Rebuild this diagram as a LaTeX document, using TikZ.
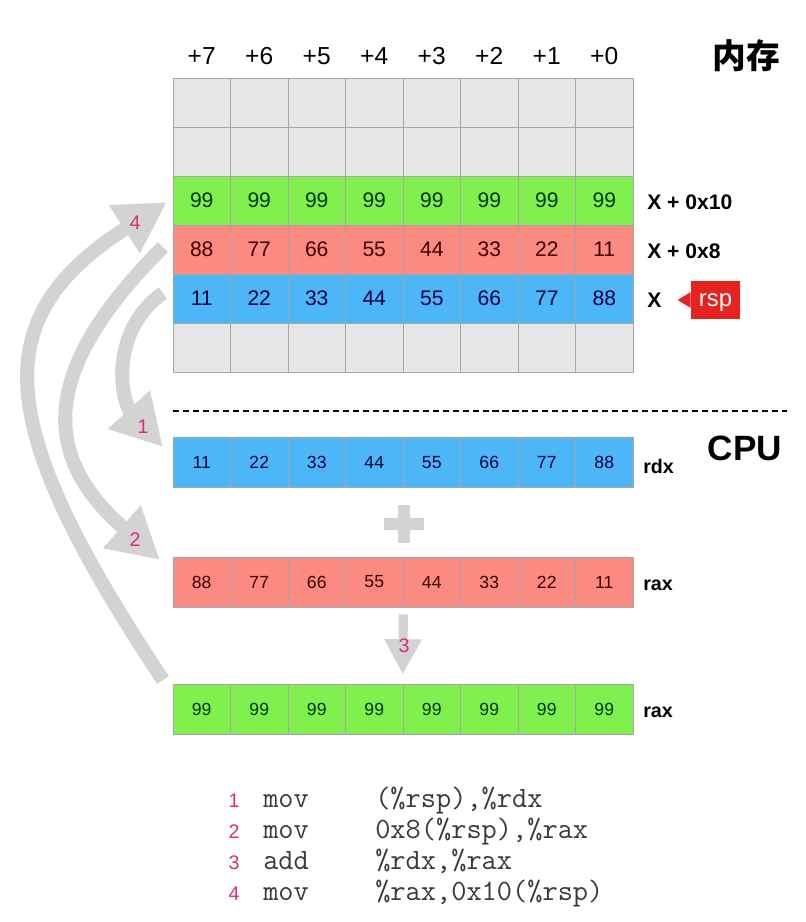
\documentclass[tikz,border=0pt]{standalone}
\usepackage{fontspec}
\setmainfont{Liberation Sans}
\newfontfamily\cjk{Noto Sans CJK SC}
\usetikzlibrary{arrows.meta}
\definecolor{cellgray}{HTML}{E6E6E6}
\definecolor{cellline}{HTML}{A6A6A6}
\definecolor{memgreen}{HTML}{80F04E}
\definecolor{memred}{HTML}{FA8A82}
\definecolor{memblue}{HTML}{4DB6F7}
\definecolor{arrowgray}{HTML}{D3D3D3}
\definecolor{stepmag}{HTML}{D6307E}
\definecolor{rspred}{HTML}{E52420}
\definecolor{codegray}{HTML}{3A3A3A}

\begin{document}
\begin{tikzpicture}[x=0.025cm,y=-0.025cm,
  memcell/.style={draw=cellline,line width=0.6pt,minimum width=1.4375cm,minimum height=1.225cm,inner sep=0pt,font=\fontsize{15}{18}\selectfont},
  cpucell/.style={memcell,minimum height=1.25cm,font=\fontsize{12.5}{15}\selectfont},
  offs/.style={font=\fontsize{17.5}{21}\selectfont},
  addr/.style={anchor=west,inner sep=0pt,font=\bfseries\fontsize{15}{18}\selectfont},
  reg/.style={anchor=west,inner sep=0pt,font=\bfseries\fontsize{14}{17}\selectfont},
  stepnum/.style={text=stepmag,inner sep=0pt,font=\fontsize{14}{17}\selectfont},
  bigarrow/.style={draw=arrowgray,line width=10pt,-{Triangle[length=36pt,width=38pt]}},
  code/.style={anchor=base west,inner sep=0pt,text=codegray,font=\ttfamily\fontsize{21}{25}\selectfont}]
\useasboundingbox (0,0) rectangle (806,922);

% memory
\foreach \t [count=\c from 0] in {+7,+6,+5,+4,+3,+2,+1,+0}
  \node[offs] (h\c) at ({201.75+57.5*\c},56) {\t};
\node[font=\cjk\bfseries\fontsize{24}{28}\selectfont] (mem) at (746,56) {内存};

\foreach \c in {0,...,7} {
  \node[memcell,fill=cellgray] (ma\c) at ({201.75+57.5*\c},102.5) {};
  \node[memcell,fill=cellgray] (mb\c) at ({201.75+57.5*\c},151.5) {};
  \node[memcell,fill=cellgray] (mf\c) at ({201.75+57.5*\c},347.5) {};
}
\foreach \v [count=\c from 0] in {99,99,99,99,99,99,99,99}
  \node[memcell,fill=memgreen,text=green!20!black] (mc\c) at ({201.75+57.5*\c},200.5) {\v};
\foreach \v [count=\c from 0] in {88,77,66,55,44,33,22,11}
  \node[memcell,fill=memred,text=red!25!black] (md\c) at ({201.75+57.5*\c},249.5) {\v};
\foreach \v [count=\c from 0] in {11,22,33,44,55,66,77,88}
  \node[memcell,fill=memblue,text=blue!25!black] (me\c) at ({201.75+57.5*\c},298.5) {\v};

\node[addr] (x10) at (647,202) {X + 0x10};
\node[addr] (x8) at (647,251) {X + 0x8};
\node[addr] (x0) at (647,300) {X};
\node[fill=rspred,text=white,minimum width=1.225cm,minimum height=0.95cm,inner sep=0pt,text depth=0pt,font=\fontsize{17}{20}\selectfont] (rsp) at (715.5,300) {rsp};
\fill[rspred] (rsp.west) ++(0,-8) -- ++(-13,8) -- ++(13,8) -- cycle;

\draw[line width=1.4pt,dash pattern=on 4.3pt off 2.8pt] (173,411) -- (787,411);

% cpu
\node[font=\bfseries\fontsize{25}{30}\selectfont] (cpu) at (745,448) {CPU};
\foreach \v [count=\c from 0] in {11,22,33,44,55,66,77,88}
  \node[cpucell,fill=memblue,text=blue!25!black] (rd\c) at ({201.75+57.5*\c},462.5) {\v};
\foreach \v [count=\c from 0] in {88,77,66,55,44,33,22,11}
  \node[cpucell,fill=memred,text=red!25!black] (ra\c) at ({201.75+57.5*\c},582) {\v};
\foreach \v [count=\c from 0] in {99,99,99,99,99,99,99,99}
  \node[cpucell,fill=memgreen,text=green!20!black] (rs\c) at ({201.75+57.5*\c},709) {\v};
\node[reg] (lrdx) at (643,466) {rdx};
\node[reg] (lrax) at (643,585) {rax};
\node[reg] (lres) at (643,712) {rax};

\draw[arrowgray,line width=8pt] (384,524) -- (424,524);
\draw[arrowgray,line width=8pt] (404,505) -- (404,543);
\draw[arrowgray,line width=6.5pt,-{Triangle[length=25pt,width=25pt]},shorten <=5pt,shorten >=6.5pt] (ra3.south east) -- (rs4.north west);
\node[stepnum] (n3) at (404,646) {3};

% moves
\coordinate (s1) at (163,293);
\coordinate (t1) at (163,447);
\coordinate (s2) at (163,247);
\coordinate (t2) at (160,560);
\coordinate (s4) at (163,680);
\coordinate (t4) at (167,202);
\draw[bigarrow] (s1) .. controls (110,330) and (120,400) .. (t1);
\draw[bigarrow] (s2) .. controls (40,370) and (40,455) .. (t2);
\draw[bigarrow] (s4) .. controls (-10,420) and (-13,317) .. (t4);
\node[stepnum] (n1) at (143,427) {1};
\node[stepnum] (n2) at (135,540) {2};
\node[stepnum] (n4) at (135,223) {4};

% code
\node[stepnum,anchor=base] (k1) at (234,807) {1};
\node[code] (op1) at (263,807) {mov};
\node[code] (arg1) at (375,807) {(\%rsp),\%rdx};
\node[stepnum,anchor=base] (k2) at (234,838) {2};
\node[code] (op2) at (263,838) {mov};
\node[code] (arg2) at (375,838) {0x8(\%rsp),\%rax};
\node[stepnum,anchor=base] (k3) at (234,869) {3};
\node[code] (op3) at (263,869) {add};
\node[code] (arg3) at (375,869) {\%rdx,\%rax};
\node[stepnum,anchor=base] (k4) at (234,900) {4};
\node[code] (op4) at (263,900) {mov};
\node[code] (arg4) at (375,900) {\%rax,0x10(\%rsp)};
\end{tikzpicture}
\end{document}
